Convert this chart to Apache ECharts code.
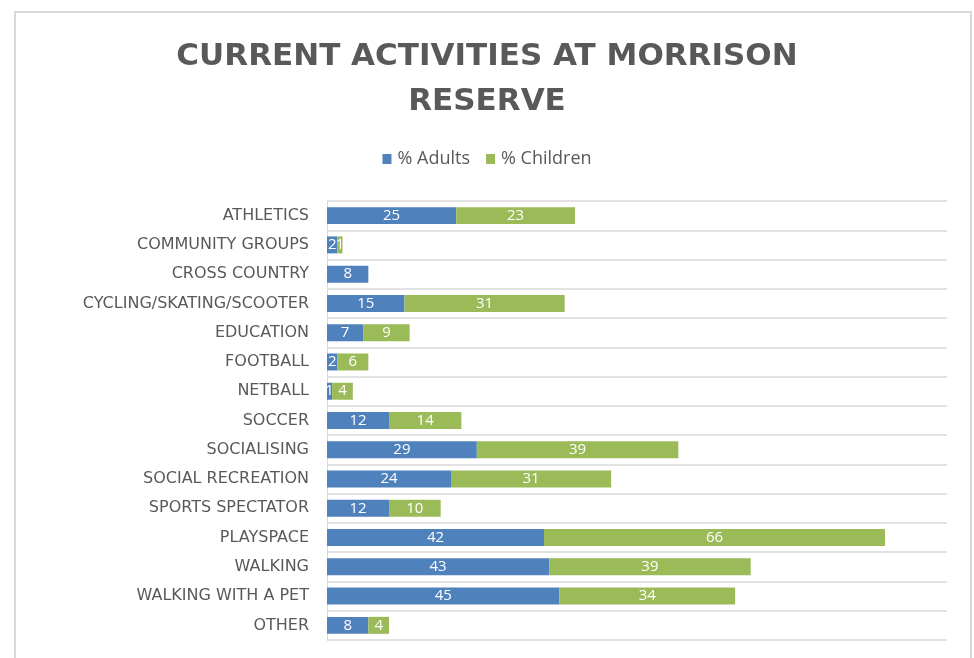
<!DOCTYPE html>
<html>
<head>
<meta charset="utf-8">
<script src="https://cdn.jsdelivr.net/npm/echarts@6/dist/echarts.min.js"></script>
<style>
html,body{margin:0;padding:0;background:#fff;}
#chart{width:974px;height:658px;}
</style>
</head>
<body>
<div id="chart"></div>
<script>
const categories = ['ATHLETICS','COMMUNITY GROUPS','CROSS COUNTRY','CYCLING/SKATING/SCOOTER','EDUCATION','FOOTBALL','NETBALL','SOCCER','SOCIALISING','SOCIAL RECREATION','SPORTS SPECTATOR','PLAYSPACE','WALKING','WALKING WITH A PET','OTHER'];
const adults =   [25, 2, 8, 15, 7, 2, 1, 12, 29, 24, 12, 42, 43, 45, 8];
const children = [23, 1, 0, 31, 9, 6, 4, 14, 39, 31, 10, 66, 39, 34, 4];
const seriesNames = ['% Adults', '% Children'];

const chart = echarts.init(document.getElementById('chart'), null, {renderer: 'canvas'});
const labelCfg = {
  show: true,
  position: 'inside',
  color: '#ffffff',
  fontFamily: 'Open Sans',
  fontSize: 15,
  formatter: p => (p.value ? String(p.value) : '')
};
chart.setOption({
  animation: false,
  backgroundColor: '#ffffff',
  graphic: [{
    type: 'rect',
    shape: {x: 15, y: 12, width: 956, height: 660},
    style: {fill: 'none', stroke: '#d9d9d9', lineWidth: 2},
    silent: true, z: -1
  }],
  title: {
    text: 'CURRENT ACTIVITIES AT MORRISON\nRESERVE',
    left: 'center',
    top: 29,
    textStyle: {
      fontFamily: 'DejaVu Sans',
      fontWeight: 'bold',
      fontSize: 31,
      lineHeight: 45,
      color: '#595959'
    }
  },
  legend: {
    data: seriesNames,
    top: 145,
    left: 'center',
    itemWidth: 9,
    itemHeight: 10,
    itemGap: 16,
    icon: 'rect',
    textStyle: {fontFamily: 'Open Sans', fontSize: 18, color: '#595959', padding: [0, 0, 0, 1]}
  },
  grid: {left: 327, right: 27, top: 201, bottom: 18, containLabel: false},
  xAxis: {
    type: 'value',
    min: 0,
    max: 120,
    show: false
  },
  yAxis: {
    type: 'category',
    data: categories,
    inverse: true,
    axisLine: {show: true, lineStyle: {color: '#d9d9d9', width: 1}},
    axisTick: {show: false},
    splitLine: {show: true, lineStyle: {color: '#d9d9d9', width: 1.5}},
    axisLabel: {
      margin: 18,
      fontFamily: 'DejaVu Sans',
      fontSize: 16,
      color: '#595959'
    }
  },
  series: [
    {name: seriesNames[0], type: 'bar', stack: 'total', data: adults, barWidth: '58%',
     itemStyle: {color: '#4F81BD'}, label: labelCfg},
    {name: seriesNames[1], type: 'bar', stack: 'total', data: children, barWidth: '58%',
     itemStyle: {color: '#9BBB59'}, label: labelCfg}
  ]
});
</script>
</body>
</html>
